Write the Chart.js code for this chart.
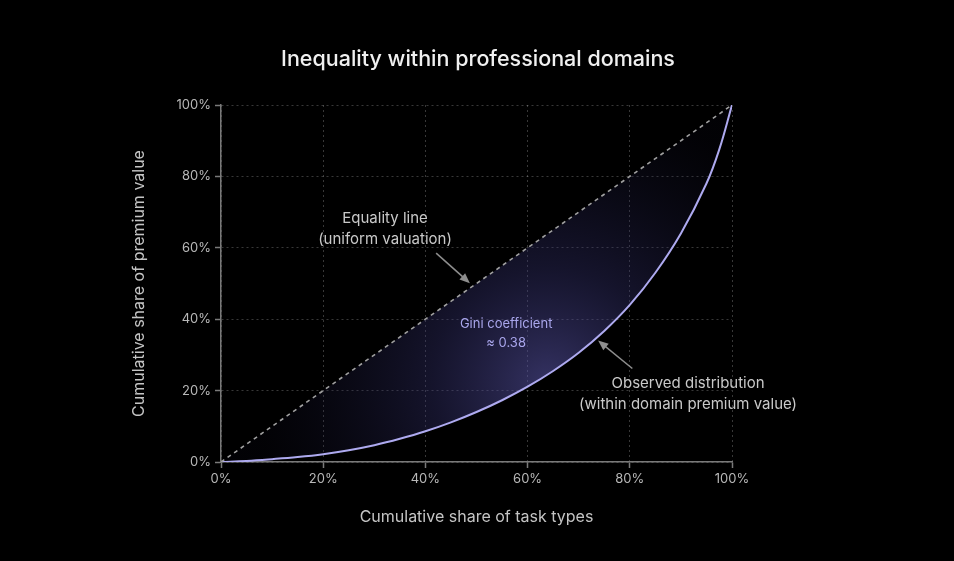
<!DOCTYPE html>
<html>
<head>
<meta charset="utf-8">
<script src="https://cdn.jsdelivr.net/npm/chart.js@4.4.1/dist/chart.umd.min.js"></script>
<style>
  html,body{margin:0;padding:0;background:#000;}
  #wrap{width:954px;height:561px;position:relative;}
</style>
</head>
<body>
<div id="wrap"><canvas id="lorenz" width="954" height="561"></canvas></div>
<script>
// data
const shareTasks    = [0, 5, 10, 15, 20, 25, 30, 35, 40, 45, 50, 55, 60, 65, 70, 75, 80, 85, 90, 95, 97.5, 100];
const observedShare = [0, 0.3, 0.8, 1.4, 2.2, 3.3, 4.7, 6.5, 8.6, 11.1, 14, 17.3, 21.1, 25.5, 30.6, 36.7, 44, 53, 64, 78, 87.5, 100];
const equalityX = [0, 100];
const equalityY = [0, 100];
const tickValues = [0, 20, 40, 60, 80, 100];

const titleText = 'Inequality within professional domains';
const xTitle = 'Cumulative share of task types';
const yTitle = 'Cumulative share of premium value';

// annotations (data coords)
const notes = [
  {lines:['Equality line','(uniform valuation)'], x:32.1, y:68.3, color:'#c9c9c9', size:15},
  {lines:['Gini coefficient','≈ 0.38'], x:55.8, y:38.7, color:'#a9a6ec', size:13},
  {lines:['Observed distribution','(within domain premium value)'], x:91.4, y:22.1, color:'#c9c9c9', size:15}
];
const arrows = [
  {from:[42.1,58.5], to:[48.7,50.1]},
  {from:[80.5,26.2], to:[73.8,34.0]}
];

const FONT = 'Inter, "Noto Sans", sans-serif';

const overlay = {
  id:'overlay',
  afterDraw(chart){
    const {ctx, scales:{x, y}} = chart;
    ctx.save();
    ctx.fillStyle = '#f0f0f0';
    ctx.font = '500 21.5px ' + FONT;
    ctx.textAlign = 'center';
    ctx.textBaseline = 'middle';
    ctx.fillText(titleText, 478, 60);

    notes.forEach(n=>{
      ctx.fillStyle = n.color;
      ctx.font = n.size + 'px ' + FONT;
      const px = x.getPixelForValue(n.x), py = y.getPixelForValue(n.y);
      n.lines.forEach((t,i)=>ctx.fillText(t, px, py + i*(n.size+6)));
    });

    ctx.strokeStyle = '#8e8e8e';
    ctx.fillStyle = '#8e8e8e';
    ctx.lineWidth = 1.5;
    arrows.forEach(a=>{
      const x1 = x.getPixelForValue(a.from[0]), y1 = y.getPixelForValue(a.from[1]);
      const x2 = x.getPixelForValue(a.to[0]), y2 = y.getPixelForValue(a.to[1]);
      const ang = Math.atan2(y2-y1, x2-x1);
      ctx.beginPath();
      ctx.moveTo(x1,y1);
      ctx.lineTo(x2 - 6*Math.cos(ang), y2 - 6*Math.sin(ang));
      ctx.stroke();
      ctx.beginPath();
      ctx.moveTo(x2,y2);
      ctx.lineTo(x2 - 11*Math.cos(ang-0.4), y2 - 11*Math.sin(ang-0.4));
      ctx.lineTo(x2 - 11*Math.cos(ang+0.4), y2 - 11*Math.sin(ang+0.4));
      ctx.closePath();
      ctx.fill();
    });
    ctx.restore();
  }
};

function areaFill(context){
  const chart = context.chart;
  const {chartArea, scales} = chart;
  if(!chartArea) return 'rgba(80,75,160,0.3)';
  const cx = scales.x.getPixelForValue(64), cy = scales.y.getPixelForValue(22);
  const g = chart.ctx.createRadialGradient(cx, cy, 0, cx, cy, 290);
  g.addColorStop(0, 'rgba(88,84,165,0.6)');
  g.addColorStop(0.4, 'rgba(55,52,115,0.38)');
  g.addColorStop(1, 'rgba(20,18,45,0.12)');
  return g;
}

const tickFont = {family: FONT, size: 13};
const gridStyle = {color:'rgba(255,255,255,0.22)', lineWidth:1, tickColor:'#7a7a7a', tickLength:6, tickWidth:1.5, tickBorderDash:[]};

new Chart(document.getElementById('lorenz'), {
  type:'line',
  data:{
    datasets:[
      {
        label:'Equality line',
        data: equalityX.map((v,i)=>({x:v, y:equalityY[i]})),
        borderColor:'#a0a0a0',
        borderWidth:1.6,
        borderDash:[4,4],
        pointRadius:0,
        fill:false
      },
      {
        label:'Observed distribution',
        data: shareTasks.map((v,i)=>({x:v, y:observedShare[i]})),
        borderColor:'#aeaaf0',
        borderWidth:2,
        pointRadius:0,
        tension:0.4,
        fill:{target:0},
        backgroundColor: areaFill
      }
    ]
  },
  options:{
    responsive:false,
    animation:false,
    layout:{padding:{left:0, right:222, top:105, bottom:0}},
    plugins:{legend:{display:false}, tooltip:{enabled:false}},
    scales:{
      x:{
        type:'linear', min:0, max:100,
        afterBuildTicks(s){ s.ticks = tickValues.map(v=>({value:v})); },
        afterFit(s){ s.height = 99; },
        border:{color:'#7a7a7a', width:1.5, dash:[2,3]},
        grid:Object.assign({}, gridStyle),
        ticks:{color:'#b8b8b8', font:tickFont, padding:3, callback:v=>v+'%', maxRotation:0},
        title:{display:true, text:xTitle, color:'#c4c4c4', font:{family:FONT, size:16}, padding:{bottom:34}}
      },
      y:{
        type:'linear', min:0, max:100,
        afterBuildTicks(s){ s.ticks = tickValues.map(v=>({value:v})); },
        afterFit(s){ s.width = 221; },
        border:{color:'#7a7a7a', width:1.5, dash:[2,3]},
        grid:Object.assign({}, gridStyle),
        ticks:{color:'#b8b8b8', font:tickFont, padding:4, callback:v=>v+'%'},
        title:{display:true, text:yTitle, color:'#c4c4c4', font:{family:FONT, size:16}, padding:{top:130}}
      }
    }
  },
  plugins:[overlay]
});
</script>
</body>
</html>
